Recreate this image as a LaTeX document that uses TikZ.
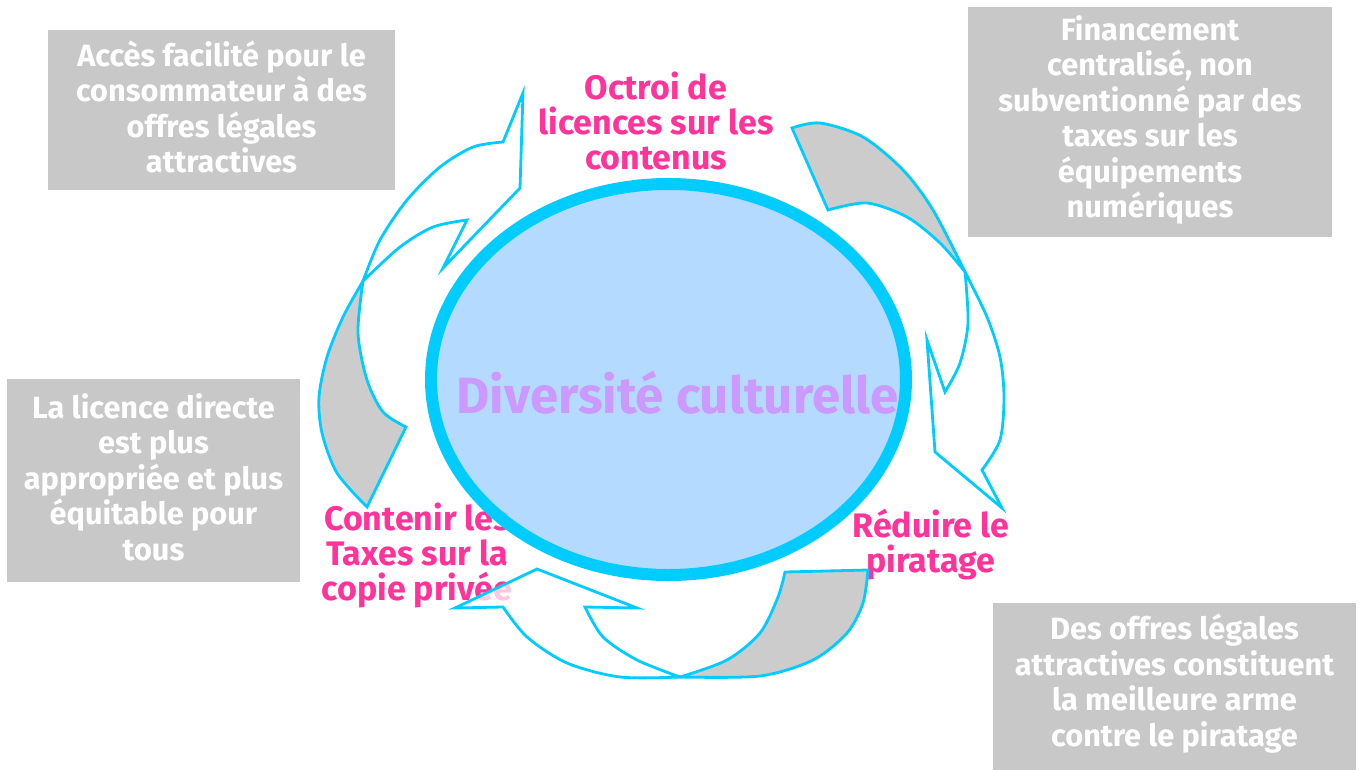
\documentclass[tikz,border=0pt]{standalone}
\usepackage{fontspec}
\setmainfont{Fira Sans}
\definecolor{cyanline}{HTML}{00CCFF}
\definecolor{boxgray}{HTML}{C8C8C8}
\definecolor{pinktxt}{HTML}{FF3399}
\definecolor{purptxt}{HTML}{CC99FF}
\definecolor{ellfill}{RGB}{168,213,255}
\definecolor{ribgray}{HTML}{CCCCCC}
\begin{document}
\begin{tikzpicture}[x=1pt,y=-1pt,
  infobox/.style={fill=boxgray, inner sep=0pt},
  infotext/.style={text=white, font=\fontsize{30.7}{35.5}\selectfont\bfseries, align=center, inner sep=0pt},
  pinklabel/.style={text=pinktxt, font=\fontsize{34}{35}\selectfont\bfseries, align=center, inner sep=0pt},
  ribbonback/.style={draw=cyanline, line width=2.8pt, fill=ribgray, line join=miter},
  ribbonfront/.style={draw=cyanline, line width=2.8pt, fill=white, fill opacity=0.72, line join=miter}]
\useasboundingbox (0,0) rectangle (1363,771);
\fill[white] (0,0) rectangle (1363,771);

% grey info boxes
\node[infobox, minimum width=347pt, minimum height=160pt] (b1) at (221.5,110) {};
\node[infotext] (t1) at (221.5,107) {Accès facilité pour le\\consommateur à des\\offres légales\\attractives};
\node[infobox, minimum width=364pt, minimum height=230pt] (b2) at (1150,122) {};
\node[infotext] (t2) at (1150,120) {Financement\\centralisé, non\\subventionné par des\\taxes sur les\\équipements\\numériques};
\node[infobox, minimum width=293pt, minimum height=203pt] (b3) at (153.5,480.5) {};
\node[infotext] (t3) at (153.5,477) {La licence directe\\est plus\\appropriée et plus\\équitable pour\\tous};
\node[infobox, minimum width=363pt, minimum height=167pt] (b4) at (1174.5,686.5) {};
\node[infotext] (t4) at (1174.5,683.5) {Des offres légales\\attractives constituent\\la meilleure arme\\contre le piratage};

% pink labels
\node[pinklabel] (l1) at (656,121) {Octroi de\\licences sur les\\contenus};
\node[pinklabel] (l2) at (931,545) {Réduire le\\piratage};
\node[pinklabel] (l3) at (417,555) {Contenir les\\Taxes sur la\\copie privée};

% central ellipse
\draw[draw=cyanline, line width=12pt, fill=ellfill, fill opacity=0.85] (668.5,379.5) ellipse [x radius=237.5pt, y radius=195.5pt];
\node[font=\fontsize{51}{60}\selectfont\bfseries, text=purptxt, anchor=base, inner sep=0pt] (dc) at (677.5,413) {Diversité culturelle};

% top-left arrow
\filldraw[ribbonback] (363,281) -- plot[smooth] coordinates {(363,281) (343,317) (327,357) (319,397) (322,433) (337,473) (367,507)}
  -- (406,427) -- plot[smooth] coordinates {(406,427) (383,412) (367,380) (358,333) (363,281)} -- cycle;
\filldraw[ribbonfront] (363,281) -- plot[smooth] coordinates {(363,281) (380,240) (407,200) (440,167) (473,147) (503,142)}
  -- (523,93) -- (520,188) -- (443,268) -- (467,220)
  -- plot[smooth] coordinates {(467,220) (433,227) (400,247) (363,281)} -- cycle;

% right arrow
\filldraw[ribbonback] (792,128) -- plot[smooth] coordinates {(792,128) (820,123) (863,137) (903,170) (933,210) (965,272)}
  -- plot[smooth] coordinates {(965,272) (940,243) (907,217) (867,203) (828,210)} -- cycle;
\filldraw[ribbonfront] (965,272) -- plot[smooth] coordinates {(965,272) (987,317) (1000,357) (1004,397) (1000,440) (982,470)}
  -- (1002,508) -- (935,452) -- (927,340) -- (945,392)
  -- plot[smooth] coordinates {(945,392) (960,363) (968,323) (965,272)} -- cycle;

% bottom arrow
\filldraw[ribbonback] (785,572) -- (868,570) -- plot[smooth] coordinates {(868,570) (863,603) (847,633) (813,660) (760,676) (680,677)}
  -- plot[smooth] coordinates {(680,677) (727,660) (760,633) (778,597) (785,572)} -- cycle;
\filldraw[ribbonfront] (680,677) -- plot[smooth] coordinates {(680,677) (620,677) (567,663) (527,637) (503,607)}
  -- (455,608) -- (537,569) -- (637,608) -- (585,607)
  -- plot[smooth] coordinates {(585,607) (603,637) (637,660) (680,677)} -- cycle;
\end{tikzpicture}
\end{document}
